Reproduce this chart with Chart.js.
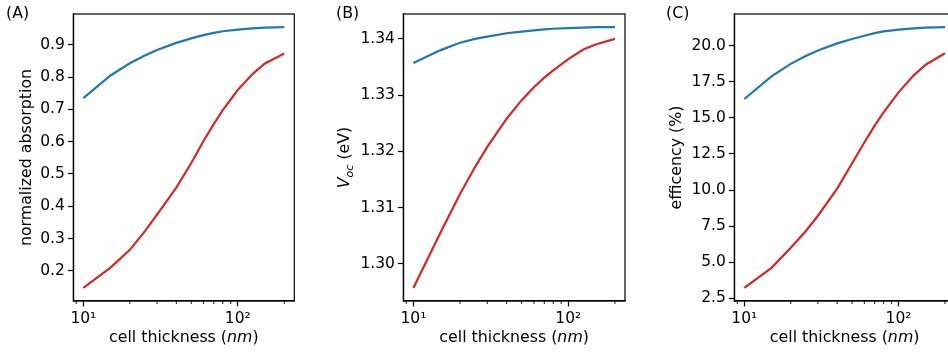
<!DOCTYPE html>
<html>
<head>
<meta charset="utf-8">
<script src="https://cdn.jsdelivr.net/npm/chart.js@4.4.1/dist/chart.umd.min.js"></script>
<style>
html, body { margin: 0; padding: 0; background: #fff; width: 948px; height: 352px; overflow: hidden; position: relative; }
.panel { position: absolute; top: 0; width: 300px; height: 352px; }
</style>
</head>
<body>
<div class="panel" style="left:0px"><canvas id="chartA" width="300" height="352"></canvas></div>
<div class="panel" style="left:330px"><canvas id="chartB" width="300" height="352"></canvas></div>
<div class="panel" style="left:660px"><canvas id="chartC" width="300" height="352"></canvas></div>
<script>
// cell thickness (nm), shared by all three panels
const thickness = [10, 15, 20, 25, 30, 40, 50, 60, 70, 80, 100, 125, 150, 200];

// (A) normalized absorption
const absorbBlue = [0.735, 0.805, 0.843, 0.867, 0.884, 0.906, 0.920, 0.930, 0.937, 0.942, 0.947, 0.951, 0.953, 0.955];
const absorbRed = [0.147, 0.210, 0.265, 0.322, 0.374, 0.458, 0.534, 0.602, 0.655, 0.698, 0.760, 0.810, 0.842, 0.873];

// (B) Voc (eV)
const vocBlue = [1.3357, 1.3380, 1.3393, 1.3400, 1.3404, 1.3410, 1.3413, 1.3415, 1.3417, 1.3418, 1.3419, 1.3420, 1.3421, 1.3421];
const vocRed = [1.2957, 1.3056, 1.3124, 1.3172, 1.3208, 1.3258, 1.3291, 1.3314, 1.3331, 1.3344, 1.3364, 1.3381, 1.3390, 1.3400];

// (C) efficiency (%)
const effBlue = [16.30, 17.86, 18.73, 19.27, 19.65, 20.15, 20.45, 20.68, 20.86, 20.98, 21.10, 21.19, 21.24, 21.28];
const effRed = [3.22, 4.61, 6.00, 7.15, 8.22, 10.10, 11.85, 13.29, 14.45, 15.37, 16.76, 17.92, 18.67, 19.47];

// tick labels
const xMajorTicks = [10, 100];
const xTickLabels = ['10\u00b9', '10\u00b2'];
const xMinorTicks = [9, 20, 30, 40, 50, 60, 70, 80, 90, 200];
const absorbTicks = [0.2, 0.3, 0.4, 0.5, 0.6, 0.7, 0.8, 0.9];
const vocTicks = [1.30, 1.31, 1.32, 1.33, 1.34];
const effTicks = [2.5, 5.0, 7.5, 10.0, 12.5, 15.0, 17.5, 20.0];

const FONT = '"DejaVu Sans", sans-serif';
const FS = 15.8;
Chart.defaults.color = '#000';
Chart.defaults.font.family = FONT;
Chart.defaults.font.size = 15.5;

const xTitle = [{t: 'cell thickness ('}, {t: 'nm', i: true}, {t: ')'}];

function drawRich(ctx, segs, x, y, vertical, align) {
    let total = 0;
    segs.forEach(s => {
        ctx.font = (s.i ? 'italic ' : '') + (s.sub ? FS * 0.7 : FS) + 'px ' + FONT;
        s.w = ctx.measureText(s.t).width;
        total += s.w;
    });
    ctx.save();
    ctx.translate(x, y);
    if (vertical) ctx.rotate(-Math.PI / 2);
    ctx.textBaseline = 'middle';
    ctx.textAlign = 'left';
    let cx = align === 'left' ? 0 : -total / 2;
    segs.forEach(s => {
        ctx.font = (s.i ? 'italic ' : '') + (s.sub ? FS * 0.7 : FS) + 'px ' + FONT;
        ctx.fillText(s.t, cx, s.sub ? FS * 0.3 : 0);
        cx += s.w;
    });
    ctx.restore();
}

const decor = {
    id: 'decor',
    afterDraw(chart, args, o) {
        const ctx = chart.ctx;
        const a = chart.chartArea;
        ctx.save();
        ctx.strokeStyle = '#000';
        ctx.lineWidth = 1.2;
        ctx.strokeRect(a.left, a.top, a.right - a.left, a.bottom - a.top);
        ctx.lineWidth = 0.9;
        ctx.beginPath();
        xMinorTicks.forEach(v => {
            const px = chart.scales.x.getPixelForValue(v);
            ctx.moveTo(px, a.bottom);
            ctx.lineTo(px, a.bottom + 3);
        });
        ctx.stroke();
        ctx.fillStyle = '#000';
        drawRich(ctx, [{t: o.letter}], 6, 14, false, 'left');
        drawRich(ctx, xTitle, (a.left + a.right) / 2, 338, false);
        drawRich(ctx, o.yTitle, a.left + o.yTitleOff, (a.top + a.bottom) / 2, true);
        ctx.restore();
    }
};

function padRange(arrs) {
    const all = [].concat(...arrs);
    const lo = Math.min(...all), hi = Math.max(...all);
    const m = (hi - lo) * 0.05;
    return [lo - m, hi + m];
}

function makePanel(id, cfg) {
    const toXY = vals => thickness.map((t, i) => ({x: t, y: vals[i]}));
    const yr = padRange([cfg.blue, cfg.red]);
    const lxMin = Math.log10(thickness[0]), lxMax = Math.log10(thickness[thickness.length - 1]);
    const lm = (lxMax - lxMin) * 0.05;
    return new Chart(document.getElementById(id), {
        type: 'line',
        data: {
            datasets: [{
                data: toXY(cfg.blue),
                borderColor: '#1f77b4',
                borderWidth: 2.2,
                pointRadius: 0,
                tension: 0,
                fill: false
            }, {
                data: toXY(cfg.red),
                borderColor: '#d62728',
                borderWidth: 2.2,
                pointRadius: 0,
                tension: 0,
                fill: false
            }]
        },
        options: {
            responsive: false,
            animation: false,
            devicePixelRatio: 1,
            layout: {
                padding: {top: 14, right: cfg.padRight, left: 0, bottom: 0}
            },
            scales: {
                x: {
                    type: 'logarithmic',
                    min: Math.pow(10, lxMin - lm),
                    max: Math.pow(10, lxMax + lm),
                    afterBuildTicks: s => { s.ticks = xMajorTicks.map(v => ({value: v})); },
                    afterFit: s => { s.height = 51; },
                    ticks: {
                        autoSkip: false,
                        maxRotation: 0,
                        padding: 3,
                        callback: (v, i) => xTickLabels[i]
                    },
                    grid: {drawOnChartArea: false, tickLength: 5.4, tickWidth: 1.2, tickColor: '#000'},
                    border: {display: true, color: '#000', width: 1.2}
                },
                y: {
                    type: 'linear',
                    min: yr[0],
                    max: yr[1],
                    afterBuildTicks: s => { s.ticks = cfg.yTicks.map(v => ({value: v})); },
                    afterFit: s => { s.width = cfg.yWidth; },
                    ticks: {
                        padding: 3,
                        callback: v => Number(v).toFixed(cfg.decimals)
                    },
                    grid: {drawOnChartArea: false, tickLength: 5.4, tickWidth: 1.2, tickColor: '#000'},
                    border: {display: true, color: '#000', width: 1.2}
                }
            },
            plugins: {
                legend: {display: false},
                tooltip: {enabled: false},
                decor: {letter: cfg.letter, yTitle: cfg.yTitle, yTitleOff: cfg.yTitleOff}
            }
        },
        plugins: [decor]
    });
}

makePanel('chartA', {
    blue: absorbBlue, red: absorbRed, yTicks: absorbTicks, decimals: 1,
    yWidth: 73.3, padRight: 5.7, letter: '(A)',
    yTitle: [{t: 'normalized absorption'}], yTitleOff: -46
});
makePanel('chartB', {
    blue: vocBlue, red: vocRed, yTicks: vocTicks, decimals: 2,
    yWidth: 73.3, padRight: 5, letter: '(B)',
    yTitle: [{t: 'V', i: true}, {t: 'oc', i: true, sub: true}, {t: ' (eV)'}], yTitleOff: -58
});
makePanel('chartC', {
    blue: effBlue, red: effRed, yTicks: effTicks, decimals: 1,
    yWidth: 74.3, padRight: 5, letter: '(C)',
    yTitle: [{t: 'efficency (%)'}], yTitleOff: -57.6
});
</script>
</body>
</html>
